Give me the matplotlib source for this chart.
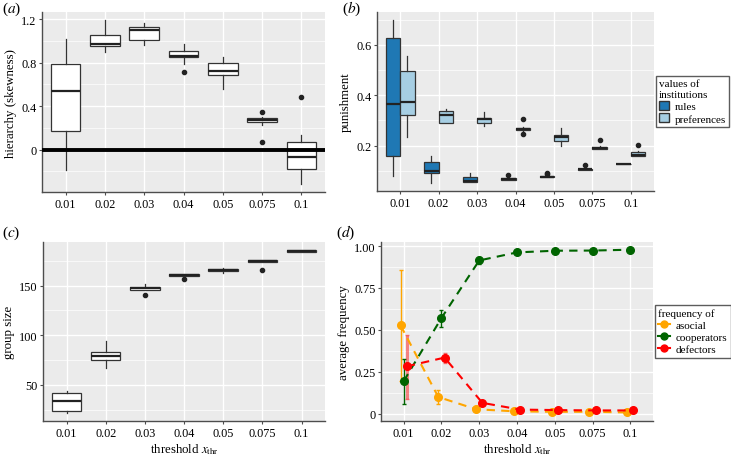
import numpy as np
import matplotlib
matplotlib.use("Agg")
import matplotlib.pyplot as plt
from matplotlib.lines import Line2D
from matplotlib.patches import Patch

plt.rcParams['font.family'] = ['Liberation Serif', 'DejaVu Serif']
plt.rcParams['mathtext.fontset'] = 'stix'

thresholds = ["0.01", "0.02", "0.03", "0.04", "0.05", "0.075", "0.1"]

# (a) hierarchy (skewness): q1, median, q3, whisker low, whisker high, outliers
hier_q1 = [0.17, 0.95, 1.005, 0.855, 0.683, 0.256, -0.18]
hier_med = [0.535, 0.97, 1.095, 0.865, 0.726, 0.275, -0.07]
hier_q3 = [0.79, 1.055, 1.13, 0.905, 0.80, 0.293, 0.07]
hier_lo = [-0.19, 0.90, 0.96, 0.79, 0.554, 0.23, -0.32]
hier_hi = [1.016, 1.19, 1.16, 0.97, 0.852, 0.30, 0.13]
hier_out = [[], [], [], [0.71], [], [0.35, 0.071], [0.487]]

# (b) punishment, rules and preferences
rules_q1 = [0.159, 0.091, 0.054, 0.064, 0.074, 0.105, 0.127]
rules_med = [0.365, 0.098, 0.060, 0.067, 0.076, 0.107, 0.128]
rules_q3 = [0.627, 0.134, 0.074, 0.071, 0.079, 0.109, 0.129]
rules_lo = [0.078, 0.050, 0.054, 0.064, 0.074, 0.105, 0.127]
rules_hi = [0.700, 0.159, 0.090, 0.071, 0.080, 0.110, 0.129]
rules_out = [[], [], [], [0.085], [0.091, 0.087], [0.125], []]

pref_q1 = [0.323, 0.291, 0.291, 0.260, 0.220, 0.188, 0.159]
pref_med = [0.375, 0.322, 0.305, 0.265, 0.235, 0.192, 0.163]
pref_q3 = [0.497, 0.337, 0.310, 0.270, 0.244, 0.196, 0.173]
pref_lo = [0.235, 0.290, 0.277, 0.258, 0.197, 0.186, 0.157]
pref_hi = [0.555, 0.346, 0.333, 0.275, 0.268, 0.199, 0.180]
pref_out = [[], [], [], [0.307, 0.245], [], [0.221], [0.204]]

# (c) group size
size_q1 = [23.5, 75, 145.7, 160, 165, 174, 183.6]
size_med = [33.6, 79, 147.5, 161, 166, 175, 185]
size_q3 = [41.6, 83, 148.4, 162, 167, 175.5, 186]
size_lo = [21.5, 67, 146, 160, 163, 174, 183.6]
size_hi = [43.3, 94, 151.5, 162, 168, 175.5, 186]
size_out = [[], [], [140.6], [157], [], [166.1], []]

# (d) average frequency with error bars
asocial = [0.527, 0.10, 0.027, 0.015, 0.012, 0.012, 0.008]
asocial_lo = [0.194, 0.057, 0.018, 0.010, 0.008, 0.008, 0.005]
asocial_hi = [0.855, 0.14, 0.035, 0.020, 0.016, 0.016, 0.012]
coop = [0.194, 0.571, 0.914, 0.962, 0.972, 0.973, 0.978]
coop_lo = [0.06, 0.52, 0.895, 0.955, 0.968, 0.969, 0.975]
coop_hi = [0.325, 0.62, 0.933, 0.969, 0.976, 0.977, 0.981]
defect = [0.283, 0.335, 0.065, 0.025, 0.022, 0.020, 0.020]
defect_lo = [0.091, 0.30, 0.055, 0.020, 0.018, 0.016, 0.016]
defect_hi = [0.472, 0.365, 0.075, 0.030, 0.026, 0.024, 0.024]

BG = "#EBEBEB"
AXC = "#4D4D4D"
TFS = 8.8    # tick labels
LFS = 9.3    # axis titles
GFS = 8.0    # legend


def gg_axes(ax):
    ax.set_facecolor(BG)
    for s in ["top", "right"]:
        ax.spines[s].set_visible(False)
    for s in ["left", "bottom"]:
        ax.spines[s].set_color(AXC)
        ax.spines[s].set_linewidth(1.0)
    ax.tick_params(colors=AXC, labelcolor="black", labelsize=TFS, length=2.5, width=0.8, pad=1.5)
    ax.grid(True, which="major", color="white", linewidth=1.0)
    ax.grid(True, which="minor", axis="y", color="white", linewidth=0.5)
    ax.tick_params(which="minor", length=0)
    ax.set_axisbelow(True)


def stats(q1, med, q3, lo, hi, out):
    return [dict(q1=a, med=b, q3=c, whislo=d, whishi=e, fliers=f)
            for a, b, c, d, e, f in zip(q1, med, q3, lo, hi, out)]


def boxes(ax, st, pos, width, fill):
    ax.bxp(st, positions=pos, widths=width, patch_artist=True, showcaps=False,
           boxprops=dict(facecolor=fill, edgecolor="#333333", linewidth=0.9),
           medianprops=dict(color="#222222", linewidth=1.6),
           whiskerprops=dict(color="#333333", linewidth=0.9),
           flierprops=dict(marker="o", markersize=3, markerfacecolor="#222222",
                           markeredgecolor="#222222"),
           manage_ticks=False, zorder=3)


W, H = 731, 460
fig = plt.figure(figsize=(W / 100, H / 100), dpi=100)


def rect(l, r, t, b):
    return [l / W, (H - b) / H, (r - l) / W, (b - t) / H]


x = np.arange(len(thresholds))

# (a)
ax = fig.add_axes(rect(42, 325, 13, 193))
gg_axes(ax)
boxes(ax, stats(hier_q1, hier_med, hier_q3, hier_lo, hier_hi, hier_out), x, 0.75, "white")
ax.axhline(0, color="black", linewidth=2.8, zorder=4)
ax.set_xlim(-0.6, len(x) - 0.4)
ax.set_ylim(-0.39, 1.265)
ax.set_yticks([0, 0.4, 0.8, 1.2])
ax.set_yticklabels(["0", "0.4", "0.8", "1.2"])
ax.set_yticks([-0.2, 0.2, 0.6, 1.0], minor=True)
ax.set_xticks(x)
ax.set_xticklabels(thresholds)
ax.set_ylabel("hierarchy (skewness)", fontsize=LFS, labelpad=3)
fig.text(2 / W, 1 - 9 / H, "($a$)", fontsize=11, va="center")

# (b)
ax = fig.add_axes(rect(377, 654, 13, 192))
gg_axes(ax)
bw = 0.75 / 2
boxes(ax, stats(rules_q1, rules_med, rules_q3, rules_lo, rules_hi, rules_out), x - bw / 2, bw, "#1F78B4")
boxes(ax, stats(pref_q1, pref_med, pref_q3, pref_lo, pref_hi, pref_out), x + bw / 2, bw, "#A6CEE3")
ax.set_xlim(-0.6, len(x) - 0.4)
ax.set_ylim(0.02, 0.73)
ax.set_yticks([0.2, 0.4, 0.6])
ax.set_yticks([0.1, 0.3, 0.5, 0.7], minor=True)
ax.set_xticks(x)
ax.set_xticklabels(thresholds)
ax.set_ylabel("punishment", fontsize=LFS, labelpad=3)
fig.text(342 / W, 1 - 9 / H, "($b$)", fontsize=11, va="center")
h = [Patch(facecolor="#1F78B4", edgecolor="#333333"), Patch(facecolor="#A6CEE3", edgecolor="#333333")]
leg = ax.legend(h, ["rules", "preferences"], title="values of\ninstitutions",
                loc="center left", bbox_to_anchor=(1.0, 0.5), fontsize=GFS,
                title_fontsize=GFS, frameon=True, fancybox=False,
                handlelength=0.9, handleheight=0.8, handletextpad=0.5,
                borderpad=0.3, labelspacing=0.2, borderaxespad=0.15)
leg._legend_box.align = "left"
leg.get_frame().set_edgecolor("#333333")

# (c)
ax = fig.add_axes(rect(43, 325, 243, 422))
gg_axes(ax)
boxes(ax, stats(size_q1, size_med, size_q3, size_lo, size_hi, size_out), x, 0.75, "white")
ax.set_xlim(-0.6, len(x) - 0.4)
ax.set_ylim(13.5, 194)
ax.set_yticks([50, 100, 150])
ax.set_yticks([25, 75, 125, 175], minor=True)
ax.set_xticks(x)
ax.set_xticklabels(thresholds)
ax.set_ylabel("group size", fontsize=LFS, labelpad=3)
ax.set_xlabel(r"threshold $x_{\mathrm{thr}}$", fontsize=LFS, labelpad=2)
fig.text(2 / W, 1 - 233 / H, "($c$)", fontsize=11, va="center")

# (d)
ax = fig.add_axes(rect(381, 653, 243, 422))
gg_axes(ax)
series = [("asocial", asocial, asocial_lo, asocial_hi, "#FFA500", -0.083, 1.0, 1.0),
          ("cooperators", coop, coop_lo, coop_hi, "#006400", 0.0, 1.0, 1.0),
          ("defectors", defect, defect_lo, defect_hi, "#FF0000", 0.083, 2.2, 0.45)]
handles = []
for name, v, lo, hi, col, off, elw, ea in series:
    v = np.array(v)
    err = np.vstack([v - np.array(lo), np.array(hi) - v])
    ax.errorbar(x + off, v, yerr=err, fmt="none", ecolor=col, elinewidth=elw,
                alpha=ea, capsize=1.5, capthick=1.0, zorder=3)
    ax.plot(x + off, v, linestyle=(0, (4, 3)), color=col, linewidth=1.5,
            marker="o", markersize=5.5, zorder=4)
    handles.append(Line2D([], [], color=col, marker="o", markersize=5,
                          linestyle="-", linewidth=1.5))
ax.set_xlim(-0.6, len(x) - 0.4)
ax.set_ylim(-0.043, 1.024)
ax.set_yticks([0, 0.25, 0.5, 0.75, 1.0])
ax.set_yticklabels(["0", "0.25", "0.50", "0.75", "1.00"])
ax.set_yticks([0.125, 0.375, 0.625, 0.875], minor=True)
ax.set_xticks(x)
ax.set_xticklabels(thresholds)
ax.set_ylabel("average frequency", fontsize=LFS, labelpad=3)
ax.set_xlabel(r"threshold $x_{\mathrm{thr}}$", fontsize=LFS, labelpad=2)
fig.text(336 / W, 1 - 233 / H, "($d$)", fontsize=11, va="center")
leg = ax.legend(handles, ["asocial", "cooperators", "defectors"], title="frequency of",
                loc="center left", bbox_to_anchor=(1.0, 0.5), fontsize=GFS,
                title_fontsize=GFS, frameon=True, fancybox=False,
                handlelength=1.1, handletextpad=0.5, borderpad=0.3,
                labelspacing=0.2, borderaxespad=0.15)
leg._legend_box.align = "left"
leg.get_frame().set_edgecolor("#333333")

fig.savefig("out.png", dpi=100)
